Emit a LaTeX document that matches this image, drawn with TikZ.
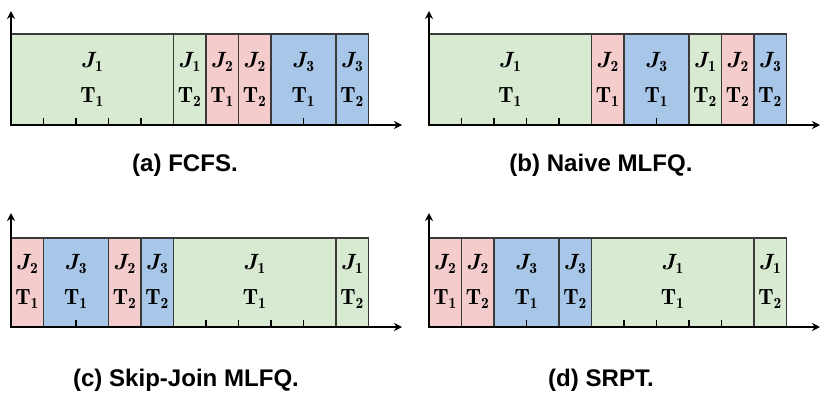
\RequirePackage{fix-cm}
\documentclass[tikz,border=0pt]{standalone}
\usepackage{fontspec}
\usepackage{amsmath,bm}
\newfontfamily\capfont{Liberation Sans}
\usetikzlibrary{arrows.meta}
\definecolor{cg}{HTML}{D9EAD3}
\definecolor{cr}{HTML}{F4CCCC}
\definecolor{cb}{HTML}{A8C7E8}
\definecolor{bd}{HTML}{3A3A3A}
\tikzset{seg/.style={draw=bd,line width=1.1pt},
 axis/.style={line width=2pt,-{Stealth[length=8pt,width=8pt]}},
 tickmark/.style={line width=1.2pt},
 lab/.style={font=\fontsize{17}{17}\selectfont,inner sep=0pt,scale=1.3},
 captxt/.style={font=\capfont\bfseries\fontsize{18.5}{20}\selectfont,inner sep=0pt,scale=1.3}}
\newcommand{\gpanel}[4]{% x0, ybot, ytop, list len/col/j/t
 \foreach \l/\c/\j/\t [remember=\xe as \xs (initially 0)] in {#4}{
  \pgfmathsetmacro{\xe}{\xs+\l}
  \fill[\c] ({#1+\xs*32.5},#2) rectangle ({#1+\xe*32.5},#3);
  \draw[seg] ({#1+\xs*32.5},#2) rectangle ({#1+\xe*32.5},#3);
  \node[lab] (j#1-#2-\j-\t) at ({#1+(\xs+\xe)*16.25},{#2-63}) {$\bm{J}_{\mathbf{\j}}$};
  \node[lab] (t#1-#2-\j-\t) at ({#1+(\xs+\xe)*16.25},{#2-28}) {$\mathbf{T}_{\mathbf{\t}}$};
  \ifnum\l>1
   \pgfmathtruncatemacro{\n}{\l-1}
   \foreach \k in {1,...,\n}{\draw[tickmark] ({#1+(\xs+\k)*32.5},#2) -- ++(0,-7);}
  \fi
 }
 \draw[axis] (#1,#2) -- (#1,{#2-114});
 \draw[axis] ({#1-1},#2) -- ({#1+391},#2);
}
\begin{document}
\begin{tikzpicture}[x=1pt,y=-1pt]
\useasboundingbox (0,0) rectangle (830,407);
\gpanel{11}{125}{34}{5/cg/1/1,1/cg/1/2,1/cr/2/1,1/cr/2/2,2/cb/3/1,1/cb/3/2}
\gpanel{429}{125}{34}{5/cg/1/1,1/cr/2/1,2/cb/3/1,1/cg/1/2,1/cr/2/2,1/cb/3/2}
\gpanel{11}{327}{238}{1/cr/2/1,2/cb/3/1,1/cr/2/2,1/cb/3/2,5/cg/1/1,1/cg/1/2}
\gpanel{429}{327}{238}{1/cr/2/1,1/cr/2/2,2/cb/3/1,1/cb/3/2,5/cg/1/1,1/cg/1/2}
\node[captxt] (ca) at (185,165) {(a) FCFS.};
\node[captxt] (cb) at (601,165) {(b) Naive MLFQ.};
\node[captxt] (cc) at (186,380) {(c) Skip-Join MLFQ.};
\node[captxt] (cd) at (601,380) {(d) SRPT.};
\end{tikzpicture}
\end{document}
